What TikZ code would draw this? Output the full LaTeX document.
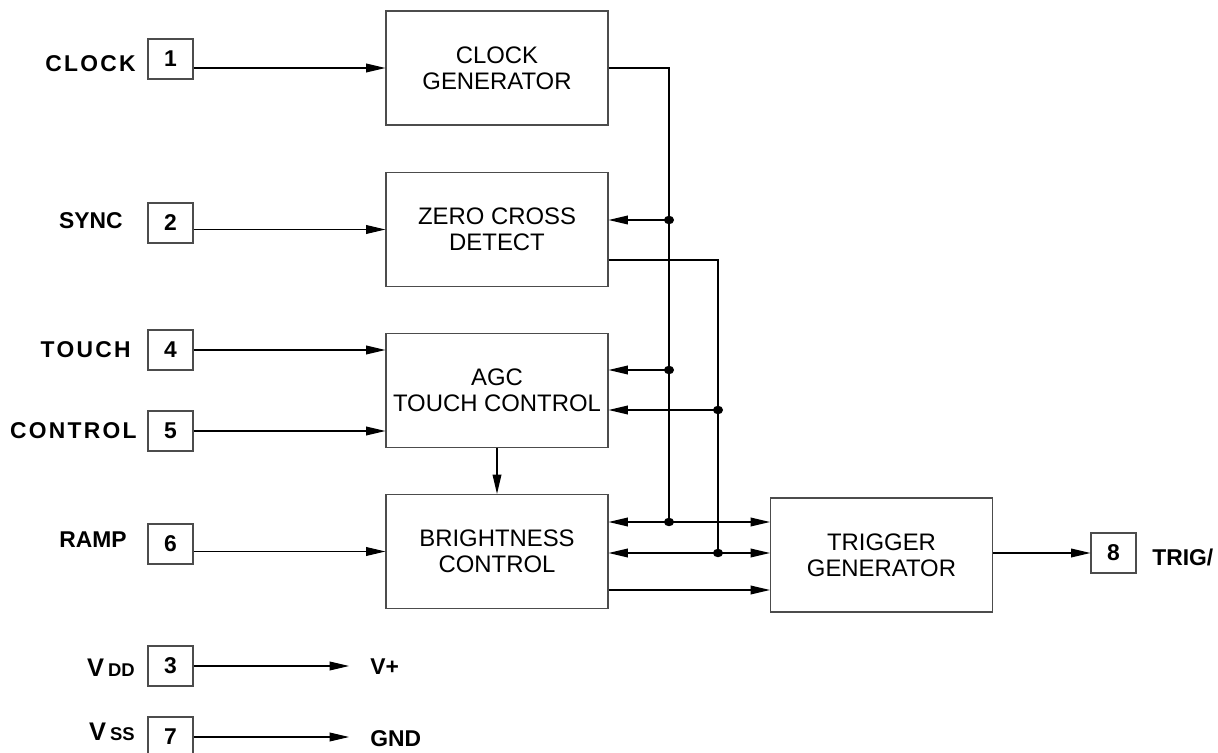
\documentclass[tikz,border=0pt]{standalone}
\usepackage{fontspec}
\setmainfont{Liberation Sans}
\newfontfamily\spaced[LetterSpace=10]{Liberation Sans}
\usetikzlibrary{arrows.meta}

\tikzset{
  block/.style={draw=black!70, line width=0.7pt, minimum width=4.44cm, minimum height=2.28cm,
    align=center, inner sep=0pt, font=\fontsize{13.6}{15}\selectfont},
  pinbox/.style={draw=black!70, line width=0.7pt, minimum width=0.9cm, minimum height=0.8cm,
    inner sep=0pt, font=\bfseries\fontsize{13}{14}\selectfont},
  pinname/.style={anchor=east, inner sep=0pt, font=\bfseries\fontsize{13}{14}\selectfont},
  railname/.style={anchor=west, inner sep=0pt, font=\bfseries\fontsize{13}{14}\selectfont},
  wire/.style={line width=0.6pt},
  sig/.style={wire, -{Triangle[length=11pt,width=5pt]}},
  bus/.style={wire, {Triangle[length=11pt,width=5pt]}-{Triangle[length=11pt,width=5pt]}}
}

\begin{document}
\begin{tikzpicture}[x=0.02cm,y=-0.02cm]

\useasboundingbox (0,0) rectangle (1218,753);

% Blocks
\node[block] (clk) at (497,68)    {CLOCK\\GENERATOR};
\node[block] (zcd) at (497,229.5) {ZERO CROSS\\DETECT};
\node[block] (agc) at (497,390.5) {AGC\\TOUCH CONTROL};
\node[block] (bri) at (497,551.5) {BRIGHTNESS\\CONTROL};
\node[block] (trg) at (881.5,555) {TRIGGER\\GENERATOR};

% Pins
\node[pinbox] (p1) at (170.5,59)  {1};
\node[pinbox] (p2) at (170.5,223) {2};
\node[pinbox] (p4) at (170.5,350) {4};
\node[pinbox] (p5) at (170.5,431) {5};
\node[pinbox] (p6) at (170.5,544) {6};
\node[pinbox] (p3) at (170.5,666) {3};
\node[pinbox] (p7) at (170.5,737) {7};
\node[pinbox] (p8) at (1113.5,553) {8};

% Pin names
\node[pinname] (nclk) at (136,64)  {\spaced\bfseries CLOCK};
\node[pinname] (nsync) at (123,221) {SYNC};
\node[pinname] (ntouch) at (131,350) {\spaced\bfseries TOUCH};
\node[pinname] (nctrl) at (137,431) {\spaced\bfseries CONTROL};
\node[pinname] (nramp) at (127,540) {RAMP};
\node[pinname] (nvdd) at (135,668) {{\fontsize{14.5}{15}\selectfont V}\,{\fontsize{10.5}{12}\selectfont DD}};
\node[pinname] (nvss) at (135,732) {{\fontsize{14.5}{15}\selectfont V}\,{\fontsize{10.5}{12}\selectfont SS}};
\node[railname] (ntrig) at (1152,557) {TRIG/};

% Inputs
\draw[sig] (p1.east |- clk.west) -- (clk.west);
\draw[sig] (p2.east |- zcd.west) -- (zcd.west);
\draw[sig] (p4.east) -- (p4.east -| agc.west);
\draw[sig] (p5.east) -- (p5.east -| agc.west);
\draw[sig] (p6.east |- bri.west) -- (bri.west);
\draw[sig] (agc.south) -- (bri.north);

% Clock and zero cross distribution
\coordinate (ja) at (669,220);
\coordinate (jc) at (669,370);
\coordinate (jb) at (669,522);
\coordinate (kd) at (718,410);
\coordinate (ke) at (718,553);

\draw[wire] (clk.east) -| (jb);
\draw[wire] (zcd.east |- 0,260) -| (ke);
\draw[sig] (ja) -- (ja -| zcd.east);
\draw[sig] (jc) -- (jc -| agc.east);
\draw[sig] (kd) -- (kd -| agc.east);
\draw[bus] (jb -| bri.east) -- (jb -| trg.west);
\draw[bus] (ke -| bri.east) -- (ke -| trg.west);
\draw[sig] (bri.east |- 0,590) -- (trg.west |- 0,590);

\foreach \j in {ja,jc,jb,kd,ke}
  \fill (\j) ellipse (2.9pt and 2.4pt);

% Output
\draw[sig] (trg.east |- p8.west) -- (p8.west);

% Supply
\node[railname] (vplus) at (370,667) {V+};
\node[railname] (gnd) at (370,739) {GND};
\draw[sig] (p3.east) -- (p3.east -| 349,0);
\draw[sig] (p7.east) -- (p7.east -| 349,0);

\end{tikzpicture}
\end{document}
